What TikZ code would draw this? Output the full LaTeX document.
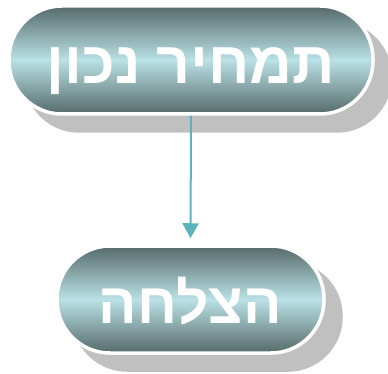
\documentclass[tikz,border=0pt]{standalone}
\usepackage{fontspec}
\newfontfamily\hebfont[Script=Hebrew]{Liberation Sans}
\TeXXeTstate=1
\usetikzlibrary{shadows,arrows.meta}
\definecolor{pilldark}{RGB}{86,106,106}
\definecolor{pilllight}{RGB}{186,225,229}
\definecolor{shadowgray}{RGB}{192,192,192}
\definecolor{arrowteal}{RGB}{90,180,190}
\tikzset{
  pill/.style={rectangle, rounded corners=53pt, draw=white, line width=3.5pt,
    top color=pilldark, bottom color=pilldark, middle color=pilllight,
    general shadow={fill=shadowgray, draw=shadowgray, line width=3.5pt,
      shadow xshift=17pt, shadow yshift=-17pt},
    text=white, font=\hebfont\bfseries,
    text height=48pt, text depth=0pt, inner sep=0pt},
  flow/.style={arrowteal, line width=2pt, -{Triangle[width=16pt,length=15pt]}}
}
\begin{document}
\begin{tikzpicture}[x=1pt,y=-1pt]
  \useasboundingbox (0,0) rectangle (388,374);
  \node[pill, minimum width=364pt, minimum height=108pt] (cost) at (191,60)
    {\fontsize{59}{59}\selectfont\beginR תמחיר נכון\endR};
  \node[pill, minimum width=267pt, minimum height=107pt] (success) at (190.5,299.5)
    {\fontsize{57}{57}\selectfont\beginR הצלחה\endR};
  \draw[flow, shorten >=6pt] (cost.south) -- (success.north);
\end{tikzpicture}
\end{document}
